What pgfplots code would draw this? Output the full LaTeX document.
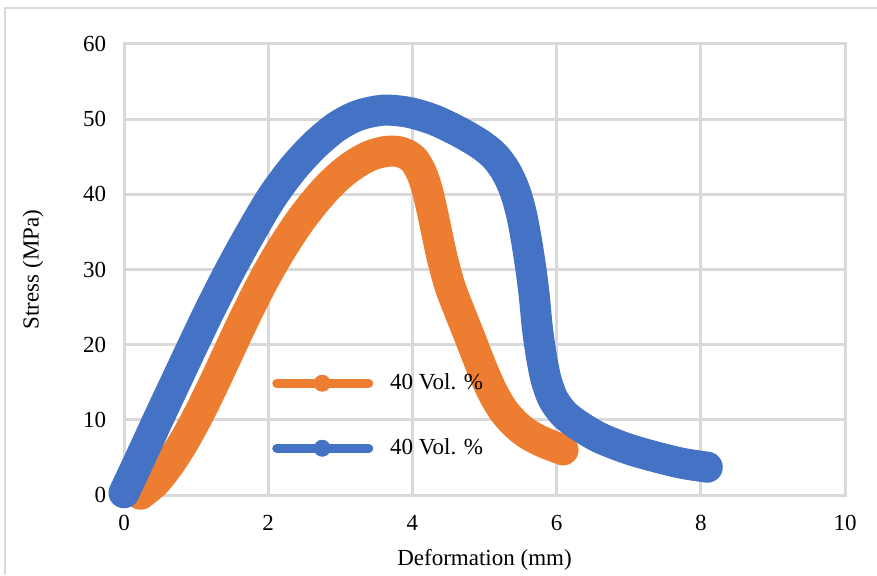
\documentclass[border=0pt]{standalone}
\usepackage{pgfplots}
\pgfplotsset{compat=1.18}
\usepackage{fontspec}
\setmainfont{Liberation Serif}
\definecolor{xlblue}{HTML}{4472C4}
\definecolor{xlorange}{HTML}{ED7D31}
\definecolor{xlgrid}{HTML}{D9D9D9}
\begin{document}
\fontsize{23}{27}\selectfont
\begin{tikzpicture}
\path[use as bounding box] (0pt,0pt) rectangle (877pt,575pt);
\draw[xlgrid, line width=2.5pt] (5pt,0pt) -- (5pt,567pt) -- (877pt,567pt);
\begin{axis}[
  at={(124pt,80pt)}, anchor=south west,
  scale only axis, width=721pt, height=451pt,
  xmin=0, xmax=10, ymin=0, ymax=60,
  xtick={0,2,...,10}, ytick={0,10,...,60},
  major tick length=0pt,
  grid=major,
  grid style={xlgrid, line width=3pt},
  axis line style={xlgrid, line width=3pt},
  clip=false,
  /pgf/number format/assume math mode=true,
  tick label style={font=\fontsize{23}{27}\selectfont},
  xticklabel style={yshift=-12pt},
  yticklabel style={xshift=-10pt},
  xlabel={Deformation (mm)},
  ylabel={Stress (MPa)},
  label style={font=\fontsize{23}{27}\selectfont},
  xlabel style={at={(axis description cs:0.5,-0.144)}, anchor=center},
  ylabel style={at={(axis description cs:-0.126,0.5)}, anchor=center, rotate=0},
  legend style={at={(axis cs:2.053,16.49)}, anchor=north west, draw=none, fill=none,
     font=\fontsize{23}{27}\selectfont, row sep=41pt, inner sep=0pt,
     nodes={inner sep=0pt}},
  legend cell align=left,
  legend image code/.code={
     \path[draw=none, fill=none] (0pt,-12pt) rectangle (118pt,12pt);
     \draw[line width=9pt, line cap=round] (4.5pt,0pt) -- (96.5pt,0pt);
     \fill[draw=none] (50pt,0pt) circle (8.5pt);},
]
\addplot[xlorange, line width=31pt, smooth, line cap=round, line join=round] coordinates {
(0.23,0.1) (0.43,1.7) (0.63,4.1) (0.83,7.1) (1.03,10.6) (1.23,14.5) (1.43,18.6)
(1.63,22.7) (1.83,26.6) (2.03,30.2) (2.23,33.4) (2.43,36.3) (2.63,38.8) (2.83,41.0)
(3.03,42.8) (3.23,44.2) (3.43,45.2) (3.63,45.7) (3.8,45.7) (3.92,45.3) (4.02,44.6)
(4.12,43.0) (4.2,40.8) (4.27,38.0) (4.34,34.8) (4.42,31.3) (4.52,27.8) (4.65,24.5)
(4.8,20.9) (4.95,17.2) (5.1,13.9) (5.25,11.4) (5.42,9.5) (5.6,8.1) (5.82,7.0) (6.09,6.0)
};
\addlegendentry{40 Vol. \%}
\addplot[xlblue, line width=31pt, smooth, line cap=round, line join=round] coordinates {
(0,0.3) (0.24,5.2) (0.48,10.2) (0.72,15.1) (0.96,20) (1.2,24.8) (1.46,29.7)
(1.74,34.6) (2.05,39.6) (2.35,43.5) (2.65,46.6) (2.95,49.0) (3.25,50.5) (3.6,51.2)
(3.95,50.9) (4.3,49.9) (4.65,48.3) (4.95,46.6) (5.15,45.0) (5.3,43.0) (5.42,40.5)
(5.51,37.5) (5.58,34) (5.64,30.3) (5.69,26.5) (5.73,22.5) (5.78,19) (5.85,15.5)
(5.95,12.8) (6.1,10.8) (6.3,9.3) (6.6,7.6) (7.0,6.1) (7.4,5.0) (7.75,4.2) (8.09,3.7)
};
\addlegendentry{40 Vol. \%}
\end{axis}
\end{tikzpicture}
\end{document}
